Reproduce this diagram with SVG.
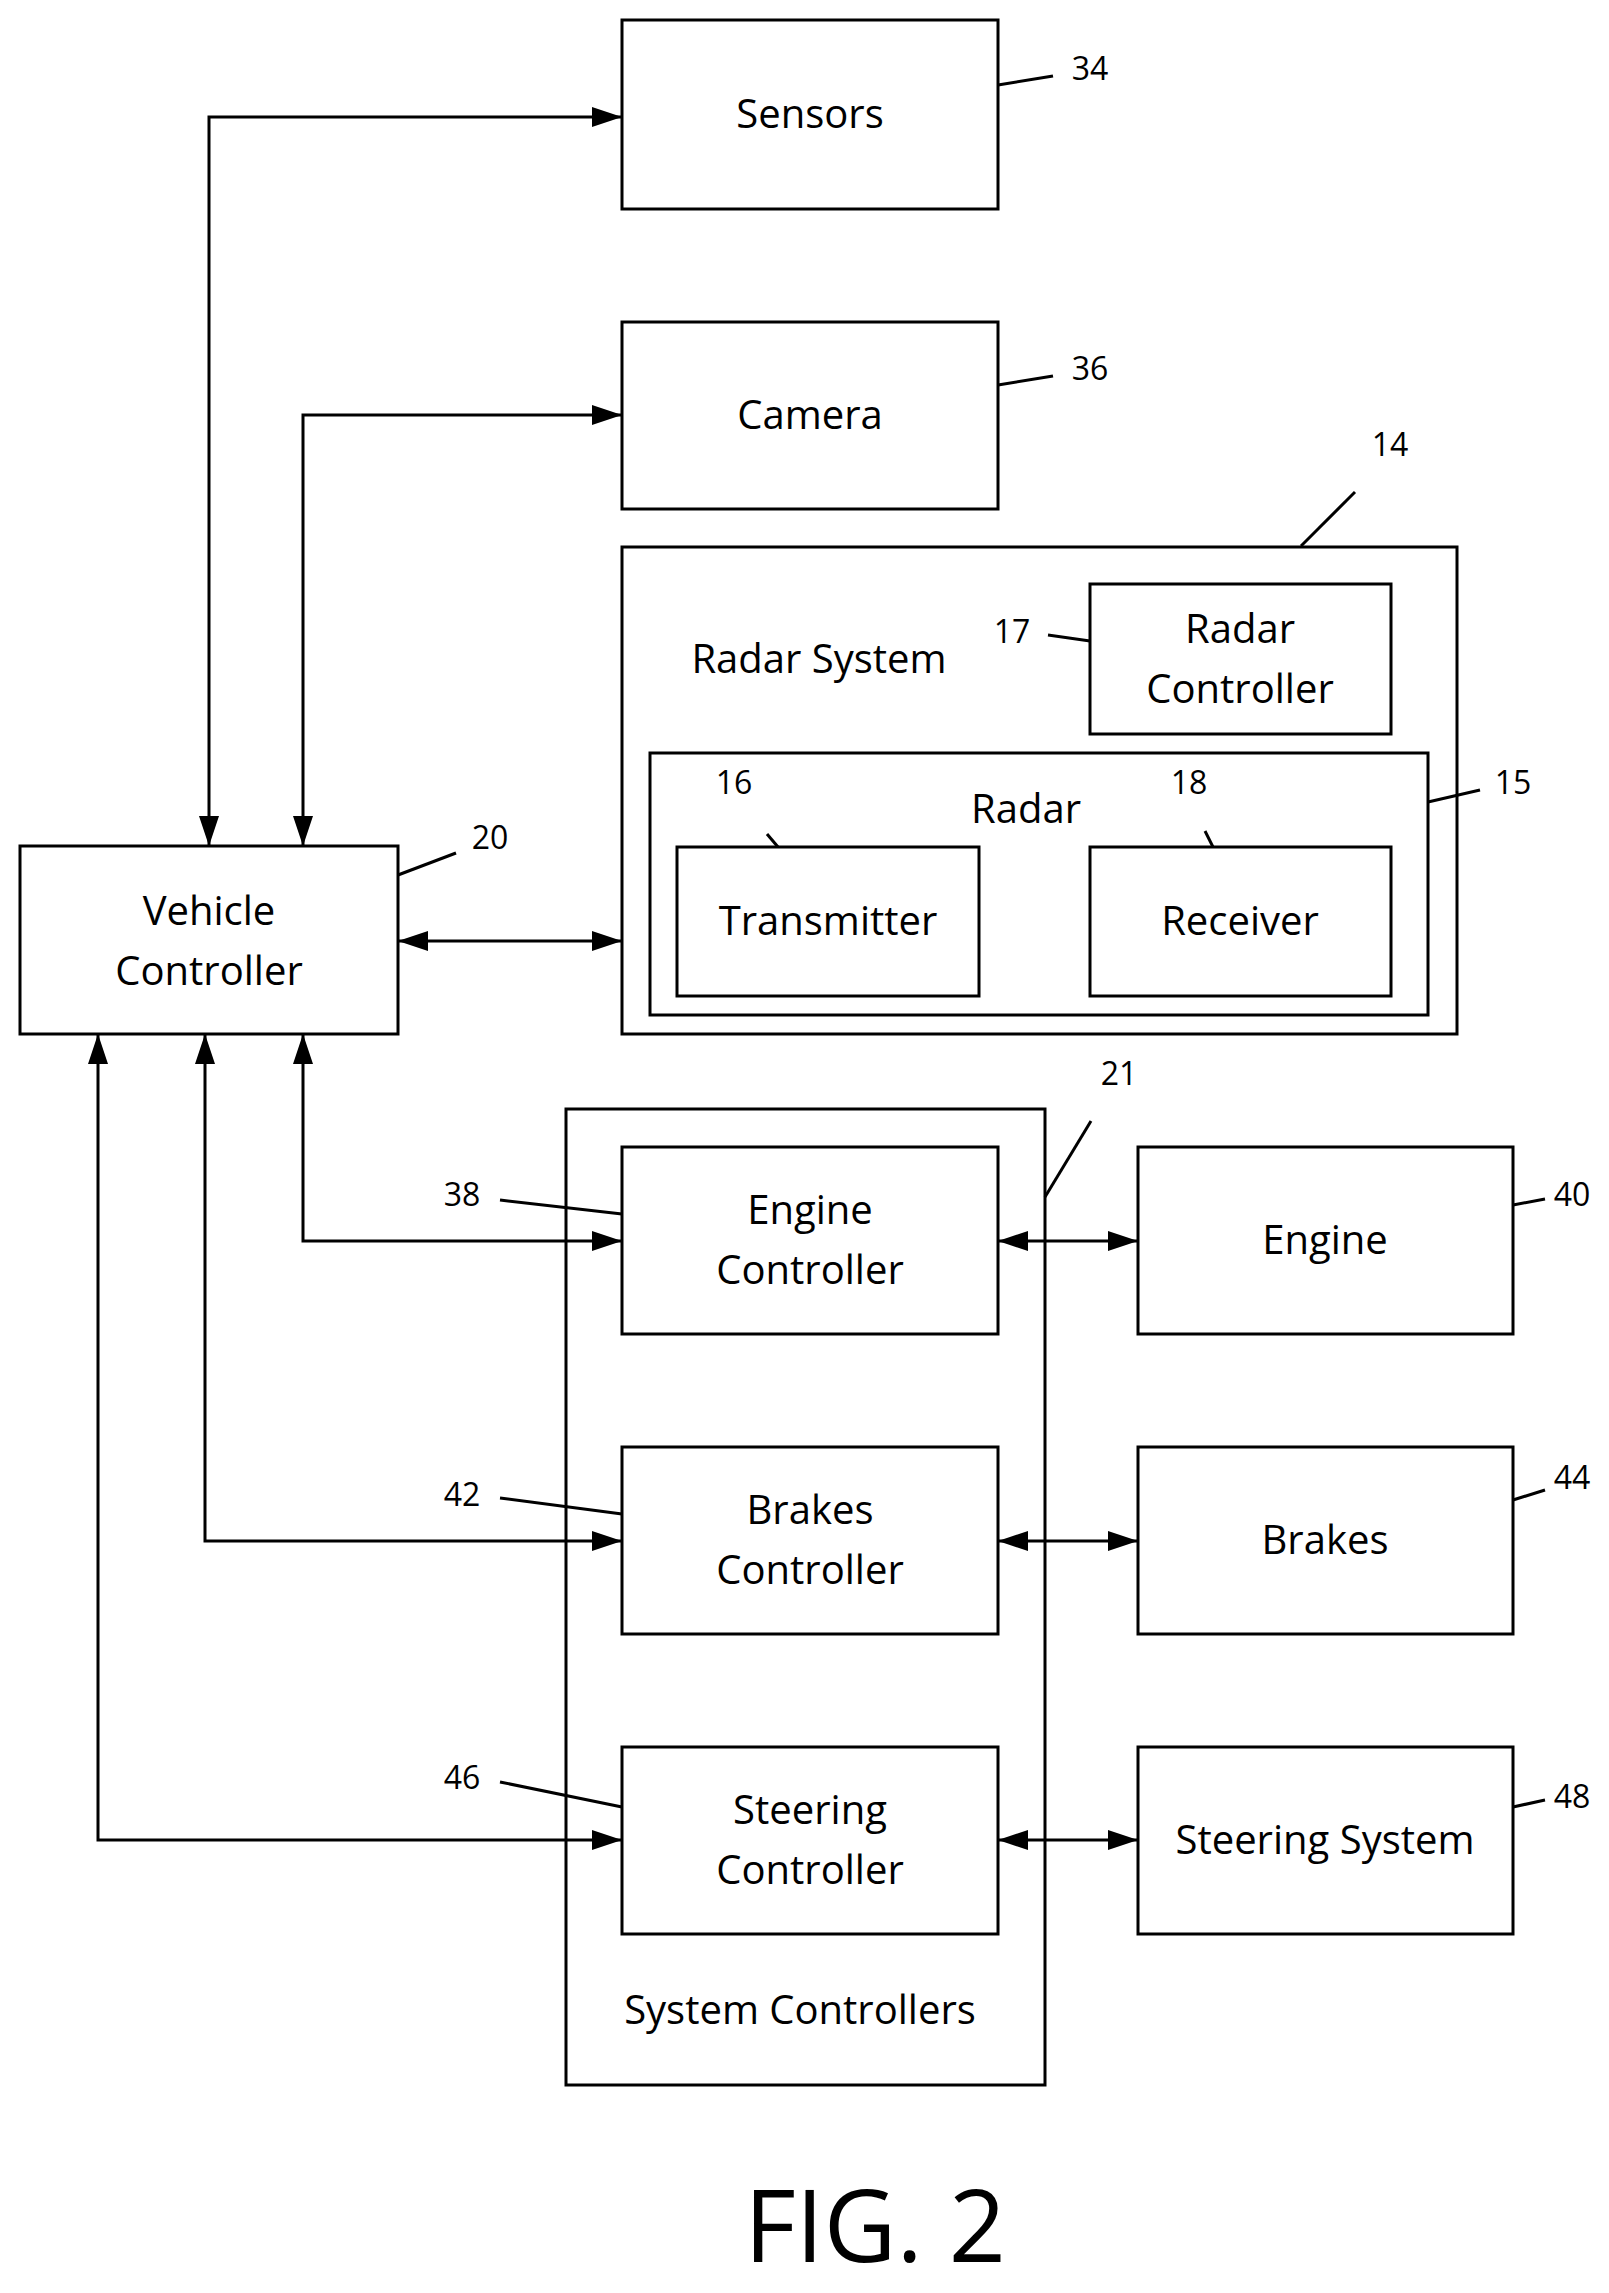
<svg xmlns="http://www.w3.org/2000/svg" width="1609" height="2293" viewBox="0 0 1609 2293">
<style>
rect{fill:none;stroke:#000;stroke-width:3}
text{font-family:"Open Sans","Liberation Sans",sans-serif;font-size:40px;text-anchor:middle;fill:#000}
.n{font-size:32px}
.c line,.c polyline{fill:none;stroke:#000;stroke-width:3}
.l{stroke:#000;stroke-width:2.5}
</style>
<defs>
<marker id="b" viewBox="0 0 30 20" refX="30" refY="10" markerWidth="30" markerHeight="20" markerUnits="userSpaceOnUse" orient="auto-start-reverse">
<path d="M0,0 L30,10 L0,20 z" fill="#000"/>
</marker>
</defs>
<rect x="0" y="0" width="1609" height="2293" style="fill:#fff;stroke:none"/>
<g id="sensors"><rect x="622" y="20" width="376" height="189"/><text x="810" y="128">Sensors</text></g>
<g id="camera"><rect x="622" y="322" width="376" height="187"/><text x="810" y="429">Camera</text></g>
<g id="radarSystem"><rect x="622" y="547" width="835" height="487"/><text x="819" y="673">Radar System</text></g>
<g id="radarController"><rect x="1090" y="584" width="301" height="150"/><text x="1240" y="643">Radar</text><text x="1240" y="703">Controller</text></g>
<g id="radar"><rect x="650" y="753" width="778" height="262"/><text x="1026" y="823">Radar</text></g>
<g id="transmitter"><rect x="677" y="847" width="302" height="149"/><text x="828" y="935">Transmitter</text></g>
<g id="receiver"><rect x="1090" y="847" width="301" height="149"/><text x="1240" y="935">Receiver</text></g>
<g id="vehicleController"><rect x="20" y="846" width="378" height="188"/><text x="209" y="925">Vehicle</text><text x="209" y="985">Controller</text></g>
<g id="systemControllers"><rect x="566" y="1109" width="479" height="976"/><text x="800" y="2024">System Controllers</text></g>
<g id="engineController"><rect x="622" y="1147" width="376" height="187"/><text x="810" y="1224">Engine</text><text x="810" y="1284">Controller</text></g>
<g id="brakesController"><rect x="622" y="1447" width="376" height="187"/><text x="810" y="1524">Brakes</text><text x="810" y="1584">Controller</text></g>
<g id="steeringController"><rect x="622" y="1747" width="376" height="187"/><text x="810" y="1824">Steering</text><text x="810" y="1884">Controller</text></g>
<g id="engine"><rect x="1138" y="1147" width="375" height="187"/><text x="1325" y="1254">Engine</text></g>
<g id="brakes"><rect x="1138" y="1447" width="375" height="187"/><text x="1325" y="1554">Brakes</text></g>
<g id="steering"><rect x="1138" y="1747" width="375" height="187"/><text x="1325" y="1854">Steering System</text></g>
<g class="c" id="connectors">
<polyline points="209,846 209,117 622,117" marker-start="url(#b)" marker-end="url(#b)"/>
<polyline points="303,846 303,415 622,415" marker-start="url(#b)" marker-end="url(#b)"/>
<line x1="398" y1="941" x2="622" y2="941" marker-start="url(#b)" marker-end="url(#b)"/>
<polyline points="303,1034 303,1241 622,1241" marker-start="url(#b)" marker-end="url(#b)"/>
<polyline points="205,1034 205,1541 622,1541" marker-start="url(#b)" marker-end="url(#b)"/>
<polyline points="98,1034 98,1840 622,1840" marker-start="url(#b)" marker-end="url(#b)"/>
<line x1="998" y1="1241" x2="1138" y2="1241" marker-start="url(#b)" marker-end="url(#b)"/>
<line x1="998" y1="1541" x2="1138" y2="1541" marker-start="url(#b)" marker-end="url(#b)"/>
<line x1="998" y1="1840" x2="1138" y2="1840" marker-start="url(#b)" marker-end="url(#b)"/>
<line class="l" x1="998" y1="85" x2="1053" y2="76"/>
<line class="l" x1="998" y1="385" x2="1053" y2="376"/>
<line class="l" x1="1301" y1="546" x2="1355" y2="492"/>
<line class="l" x1="1048" y1="635" x2="1090" y2="641"/>
<line class="l" x1="1428" y1="802" x2="1480" y2="790"/>
<line class="l" x1="767" y1="834" x2="778" y2="847"/>
<line class="l" x1="1205" y1="831" x2="1213" y2="847"/>
<line class="l" x1="398" y1="875" x2="456" y2="853"/>
<line class="l" x1="1045" y1="1197" x2="1091" y2="1121"/>
<line class="l" x1="500" y1="1200" x2="622" y2="1214"/>
<line class="l" x1="500" y1="1498" x2="622" y2="1514"/>
<line class="l" x1="500" y1="1782" x2="622" y2="1807"/>
<line class="l" x1="1513" y1="1205" x2="1545" y2="1199"/>
<line class="l" x1="1513" y1="1500" x2="1545" y2="1490"/>
<line class="l" x1="1513" y1="1807" x2="1545" y2="1800"/>
</g>
<g id="labels">
<text class="n" x="1090" y="80">34</text>
<text class="n" x="1090" y="380">36</text>
<text class="n" x="1390" y="456">14</text>
<text class="n" x="1012" y="643">17</text>
<text class="n" x="1513" y="794">15</text>
<text class="n" x="734" y="794">16</text>
<text class="n" x="1189" y="794">18</text>
<text class="n" x="490" y="849">20</text>
<text class="n" x="1119" y="1085">21</text>
<text class="n" x="462" y="1206">38</text>
<text class="n" x="462" y="1506">42</text>
<text class="n" x="462" y="1789">46</text>
<text class="n" x="1572" y="1206">40</text>
<text class="n" x="1572" y="1489">44</text>
<text class="n" x="1572" y="1808">48</text>
<text x="875" y="2262" style="font-size:100px">FIG. 2</text>
</g>
</svg>
